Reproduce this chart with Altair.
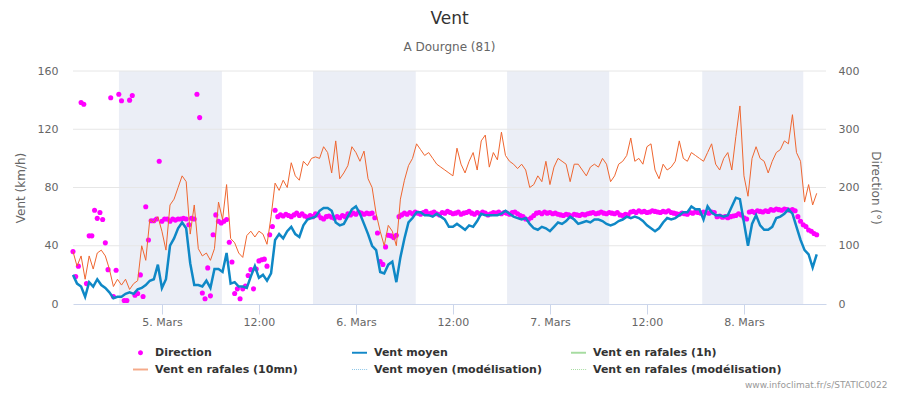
import altair as alt
import pandas as pd

FONT = "DejaVu Sans"
TITLE = "Vent"
SUBTITLE = "A Dourgne (81)"
SOURCE = "www.infoclimat.fr/s/STATIC0022"

# time axis: hours relative to 5 Mars 00:00
WIND_START = -11.0
WIND_STEP = 0.5
DIR_START = -11.0
DIR_STEP = 1.0 / 3.0

gust_10mn = [
    36, 26, 33, 17, 33, 24, 35, 37, 33, 24,
    12, 17, 13, 17, 10, 14, 16, 40, 30, 58,
    56, 60, 50, 37, 68, 72, 80, 88, 84, 48,
    68, 38, 33, 35, 30, 38, 70, 58, 82, 45,
    42, 35, 32, 47, 50, 46, 50, 48, 41, 60,
    83, 78, 85, 80, 97, 88, 85, 98, 95, 100,
    101, 100, 108, 104, 90, 112, 86, 90, 95, 108,
    104, 98, 105, 86, 80, 62, 50, 40, 54, 50,
    40, 72, 85, 95, 100, 110, 106, 102, 104, 100,
    96, 94, 92, 90, 88, 107, 96, 90, 98, 104,
    92, 112, 116, 94, 104, 99, 118, 102, 98, 96,
    93, 96, 92, 80, 82, 88, 84, 98, 82, 94,
    100, 98, 96, 84, 96, 96, 92, 88, 94, 96,
    94, 100, 96, 84, 88, 96, 98, 102, 114, 98,
    100, 96, 108, 110, 92, 86, 96, 92, 94, 98,
    112, 100, 98, 104, 102, 100, 98, 104, 110, 96,
    92, 100, 104, 92, 115, 136, 88, 74, 100, 108,
    100, 98, 90, 98, 104, 106, 112, 110, 130, 104,
    98, 70, 82, 68, 76,
]

wind_mean = [
    20, 14, 12, 5, 15, 12, 17, 13, 11, 8,
    4, 5, 5, 7, 8, 7, 10, 11, 13, 16,
    17, 27, 11, 17, 40, 45, 52, 56, 52, 28,
    13, 13, 12, 16, 11, 24, 24, 22, 35, 14,
    15, 12, 12, 11, 19, 26, 18, 20, 16, 21,
    44, 48, 45, 50, 53, 48, 46, 54, 58, 59,
    60, 64, 66, 66, 64, 56, 54, 55, 60, 65,
    67, 62, 55, 48, 40, 37, 22, 21, 27, 29,
    15, 32, 45, 56, 59, 63, 63, 61, 61, 60,
    62, 60, 58, 53, 53, 55, 53, 51, 54, 53,
    57, 62, 61, 61, 61, 61, 62, 64, 62, 60,
    59, 58, 59, 55, 52, 51, 53, 52, 50, 53,
    56, 55, 57, 60, 58, 55, 56, 57, 56, 58,
    58, 57, 55, 54, 55, 57, 58, 60, 59, 60,
    59, 57, 54, 52, 50, 52, 56, 59, 58, 59,
    61, 63, 63, 67, 65, 65, 58, 67, 63, 61,
    61, 60, 61, 67, 73, 72, 56, 40, 55, 61,
    54, 51, 51, 53, 59, 60, 62, 65, 62, 53,
    44, 37, 34, 25, 34,
]

direction = [
    90, 47, 65, 346, 343, 35, 117, 117, 161, 147,
    157, 145, 105, 59, 354, 13, 58, 360, 349, 6,
    6, 350, 358, 15, 18, 50, 13, 167, 110, 143,
    143, 146, 245, 142, 146, 146, 142, 146, 144, 146,
    146, 147, 146, 136, 147, 146, 360, 320, 19, 9,
    62, 14, 119, 153, 142, 139, 142, 145, 106, 72,
    18, 26, 9, 26, 31, 49, 59, 26, 60, 74,
    76, 77, 65, 119, 133, 161, 150, 153, 151, 154,
    152, 150, 153, 156, 152, 155, 151, 149, 152, 150,
    155, 153, 148, 146, 150, 151, 149, 147, 150, 148,
    152, 150, 155, 153, 156, 154, 158, 156, 154, 156,
    155, 156, 148, 122, 73, 68, 98, 118, 117, 114,
    118, 150, 153,
    156, 154, 157, 155, 158, 156, 154, 157, 159, 155,
    156, 158, 155, 153, 157, 156, 159, 157, 155, 156,
    158, 154, 156, 157, 159, 156, 154, 157, 155, 158,
    156, 153, 155, 157, 156, 158, 155, 157, 156, 154,
    157, 158, 155,
    152, 150, 146, 145, 148, 152,
    156, 157, 155, 158, 156, 157, 155, 156, 154,
    153, 152, 154, 153, 151, 154, 153, 152, 154, 153, 155,
    156, 157, 155, 156, 158, 156, 155, 157, 156, 155, 157,
    153, 152, 154, 153,
    158, 159, 157, 160, 158, 159, 157, 158, 160, 159, 158, 157, 159, 158, 160, 157, 156,
    155, 154, 156, 155, 154,
    157, 156, 158, 157, 156, 158, 157, 156, 158, 157,
    150, 151, 149, 150, 148, 150, 151, 152,
    155, 153, 148, 146,
    158, 159, 157, 160, 159, 158, 160, 159,
    162, 161, 163, 162, 161, 163, 162, 161, 162, 160,
    150, 142, 136, 133, 127, 125, 121, 119,
]

night_start = [-5.32, 18.69, 42.70, 66.84]
night_end = [7.42, 31.40, 55.33, 79.34]

x_domain = [-11.0, 82.15]
tick_hours = [0, 12, 24, 36, 48, 60, 72]
speed_domain = [0, 160]
speed_ticks = [0, 40, 80, 120, 160]
dir_domain = [0, 400]
dir_ticks = [0, 100, 200, 300, 400]

legend_names = [
    "Direction", "Vent moyen", "Vent en rafales (1h)",
    "Vent en rafales (10mn)", "Vent moyen (modélisation)", "Vent en rafales (modélisation)",
]
legend_colors = ["#ff00ff", "#1288c8", "#a6dca0", "#f5aa8a", "#8cc6e8", "#a6dca0"]

C_GUST = "#ef6630"
C_MEAN = "#0f88c6"
C_DIR = "#ff00ff"
C_BAND = "#ebeef6"
C_GRID = "#e6e6e6"

# ---- legend symbol shapes (normalised [-1, 1] space) ----
P_DOT = "M0.33,0A0.33,0.33,0,1,1,-0.33,0A0.33,0.33,0,1,1,0.33,0Z"
P_LINE = "M-1,-0.13L1,-0.13L1,0.13L-1,0.13Z"
P_DOTTED = " ".join("M%.2f,-0.07h0.13v0.14h-0.13Z" % (-1 + k * 0.27) for k in range(8))
legend_shapes = [P_DOT, P_LINE, P_LINE, P_LINE, P_DOTTED, P_DOTTED]

wind_df = pd.DataFrame({
    "h": [WIND_START + i * WIND_STEP for i in range(len(gust_10mn))],
    "gust": gust_10mn,
    "mean": wind_mean,
})
dir_df = pd.DataFrame({
    "h": [DIR_START + j * DIR_STEP for j in range(len(direction))],
    "dir": direction,
})
night_df = pd.DataFrame({"start": night_start, "end": night_end})
grid_df = pd.DataFrame({"v": speed_ticks[1:]})
legend_df = pd.DataFrame({"serie": legend_names})

x_scale = alt.Scale(domain=x_domain, nice=False, zero=False)
x_axis = alt.Axis(
    values=tick_hours,
    labelExpr="datum.value % 24 == 0 ? (5 + datum.value / 24) + '. Mars' : '12:00'",
    grid=False, domainColor="#ccd6eb", tickColor="#ccd6eb", tickSize=10,
    labelColor="#666666", labelFontSize=11, labelFont=FONT, labelPadding=2,
    title=SOURCE, titleAnchor="end", titleAlign="right", titleX=814, titleY=85,
    titleBaseline="bottom", titleFontSize=9, titleColor="#999999",
    titleFontWeight="normal", titleFont=FONT,
)

speed_scale = alt.Scale(domain=speed_domain, nice=False, zero=True)
speed_axis = alt.Axis(
    orient="left", values=speed_ticks, grid=False, domain=False, ticks=False,
    labelColor="#666666", labelFontSize=11, labelFont=FONT, labelPadding=15,
    title="Vent (km/h)", titleColor="#666666", titleFontSize=12, titleFont=FONT,
    titleFontWeight="normal", titlePadding=10,
)
dir_axis = alt.Axis(
    orient="right", values=dir_ticks, grid=False, domain=False, ticks=False,
    labelColor="#666666", labelFontSize=11, labelFont=FONT, labelPadding=12,
    title="Direction (°)", titleColor="#666666", titleFontSize=12, titleFont=FONT,
    titleFontWeight="normal", titlePadding=10,
)

LEG = alt.Legend(
    title=None, orient="none", legendX=60, legendY=274, direction="horizontal",
    columns=3, gridAlign="all", columnPadding=8, rowPadding=4, padding=0,
    symbolSize=225, symbolStrokeWidth=0, labelFont=FONT, labelFontSize=11,
    labelFontWeight="bold", labelColor="#333333", labelLimit=300, labelOffset=7,
)

bands = alt.Chart(night_df).mark_rect(color=C_BAND).encode(
    x=alt.X("start:Q", scale=x_scale, axis=x_axis),
    x2="end:Q",
)
grid = alt.Chart(grid_df).mark_rule(color=C_GRID, strokeWidth=1).encode(
    y=alt.Y("v:Q", scale=speed_scale, axis=None),
)
legend_layer = alt.Chart(legend_df).mark_point(filled=True, opacity=1, size=225).encode(
    color=alt.Color("serie:N", scale=alt.Scale(domain=legend_names, range=legend_colors), legend=LEG),
    shape=alt.Shape("serie:N", scale=alt.Scale(domain=legend_names, range=legend_shapes), legend=LEG),
).transform_filter("false")

background = alt.layer(bands, grid, legend_layer)

dir_points = alt.Chart(dir_df).mark_circle(color=C_DIR, opacity=1, size=26).encode(
    x=alt.X("h:Q", scale=x_scale, axis=x_axis),
    y=alt.Y("dir:Q", scale=alt.Scale(domain=dir_domain, nice=False), axis=dir_axis),
)

gust_line = alt.Chart(wind_df).mark_line(color=C_GUST, strokeWidth=1).encode(
    x=alt.X("h:Q", scale=x_scale, axis=x_axis),
    y=alt.Y("gust:Q", scale=speed_scale, axis=speed_axis),
)
mean_line = alt.Chart(wind_df).mark_line(color=C_MEAN, strokeWidth=2.5).encode(
    x=alt.X("h:Q", scale=x_scale, axis=x_axis),
    y=alt.Y("mean:Q", scale=speed_scale, axis=speed_axis),
)
lines = alt.layer(gust_line, mean_line)

chart = alt.layer(background, dir_points, lines).resolve_scale(
    y="independent"
).properties(
    width=753,
    height=233,
    autosize=alt.AutoSizeParams(type="none"),
    padding={"left": 65, "top": 63, "right": 66, "bottom": 88},
    background="white",
    title=alt.TitleParams(
        text=TITLE, subtitle=SUBTITLE, font=FONT, fontSize=17, fontWeight="normal",
        color="#333333", subtitleFont=FONT, subtitleFontSize=12, subtitleColor="#666666",
        anchor="middle", offset=11, subtitlePadding=14,
    ),
).configure_view(stroke=None)

chart.save("out.html", embed_options={"renderer": "svg", "actions": False})
